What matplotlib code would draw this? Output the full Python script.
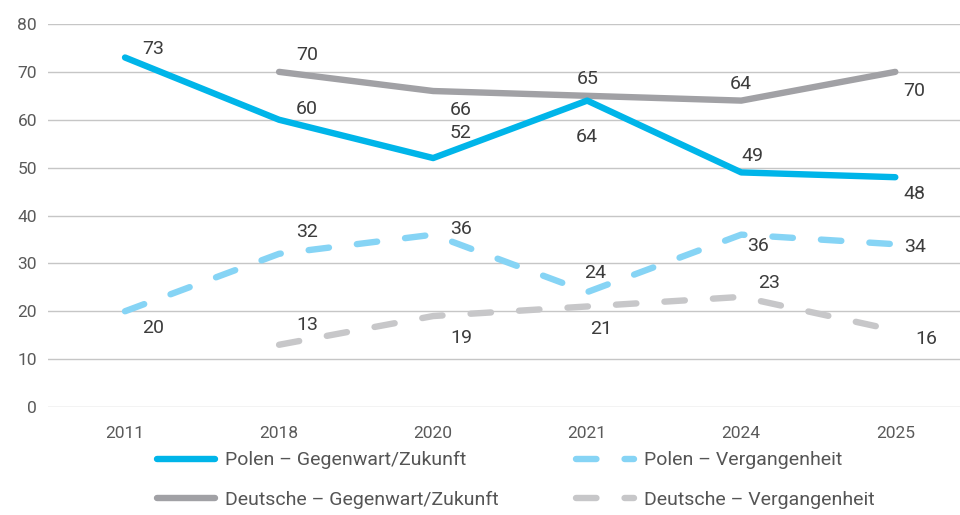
import matplotlib
matplotlib.use("Agg")
import matplotlib.pyplot as plt
import numpy as np

plt.rcParams['font.family'] = ['Liberation Sans Narrow', 'Roboto', 'DejaVu Sans']

years = ['2011', '2018', '2020', '2021', '2024', '2025']

polen_gz = [73, 60, 52, 64, 49, 48]
deutsche_gz = [None, 70, 66, 65, 64, 70]
polen_v = [20, 32, 36, 24, 36, 34]
deutsche_v = [None, 13, 19, 21, 23, 16]

# label offsets in points (dx, dy) for each value
off_polen_gz = [(20, 6), (20, 8), (20, 18), (0, -26), (8, 12), (14, -12)]
off_deutsche_gz = [None, (20, 12), (20, -14), (0, 12), (0, 12), (14, -14)]
off_polen_v = [(20, -12), (20, 16), (20, 4), (6, 14), (12, -8), (14, -2)]
off_deutsche_v = [None, (20, 14), (20, -16), (10, -16), (20, 10), (22, -6)]

fig = plt.figure(figsize=(9.6, 5.15), dpi=100)
ax = fig.add_axes([0.05, 0.2097, 0.95, 0.7437])

x = np.arange(len(years))

def serie(vals):
    xs = [i for i, v in enumerate(vals) if v is not None]
    ys = [v for v in vals if v is not None]
    return xs, ys

lw = 4.6
series = [
    (polen_gz, off_polen_gz, '#00b5e9', '-', 'Polen – Gegenwart/Zukunft'),
    (polen_v, off_polen_v, '#86d4f5', '--', 'Polen – Vergangenheit'),
    (deutsche_gz, off_deutsche_gz, '#a1a1a5', '-', 'Deutsche – Gegenwart/Zukunft'),
    (deutsche_v, off_deutsche_v, '#c7c7c9', '--', 'Deutsche – Vergangenheit'),
]

handles = {}
# draw in order so that the main lines sit on top
for vals, offs, col, ls, name in [series[3], series[1], series[2], series[0]]:
    xs, ys = serie(vals)
    if ls == '--':
        line, = ax.plot(xs, ys, color=col, lw=lw, linestyle=(0, (3.2, 4.4)),
                        dash_capstyle='round', solid_joinstyle='round')
    else:
        line, = ax.plot(xs, ys, color=col, lw=lw, solid_capstyle='round',
                        solid_joinstyle='round')
    handles[name] = line
    for xi, yi in zip(xs, ys):
        dx, dy = offs[xi]
        ax.annotate(str(yi), (xi, yi), xytext=(dx, dy), textcoords='offset points',
                    ha='center', va='center', fontsize=14, color='#3c3c3c')

ax.set_ylim(0, 80)
ax.set_xlim(-0.5, 5.42)
ax.set_yticks(range(0, 81, 10))
ax.set_xticks(x)
ax.set_xticklabels(years)
ax.yaxis.grid(True, color='#c6c6c6', lw=1)
ax.set_axisbelow(True)
for s in ax.spines.values():
    s.set_visible(False)
ax.tick_params(axis='both', length=0, labelsize=12.5, colors='#5a5a5a')
ax.tick_params(axis='x', pad=14)
ax.tick_params(axis='y', pad=8)

# column-wise fill: Polen row on top, Deutsche row below
order = ['Polen – Gegenwart/Zukunft', 'Deutsche – Gegenwart/Zukunft',
         'Polen – Vergangenheit', 'Deutsche – Vergangenheit']
fig.legend([handles[n] for n in order], order, loc='lower left',
           bbox_to_anchor=(0.145, -0.022), ncol=2, frameon=False, fontsize=14,
           handlelength=3.0, handletextpad=0.5, columnspacing=4.0,
           labelspacing=1.1, labelcolor='#555555')

fig.savefig('out.png', dpi=100)
